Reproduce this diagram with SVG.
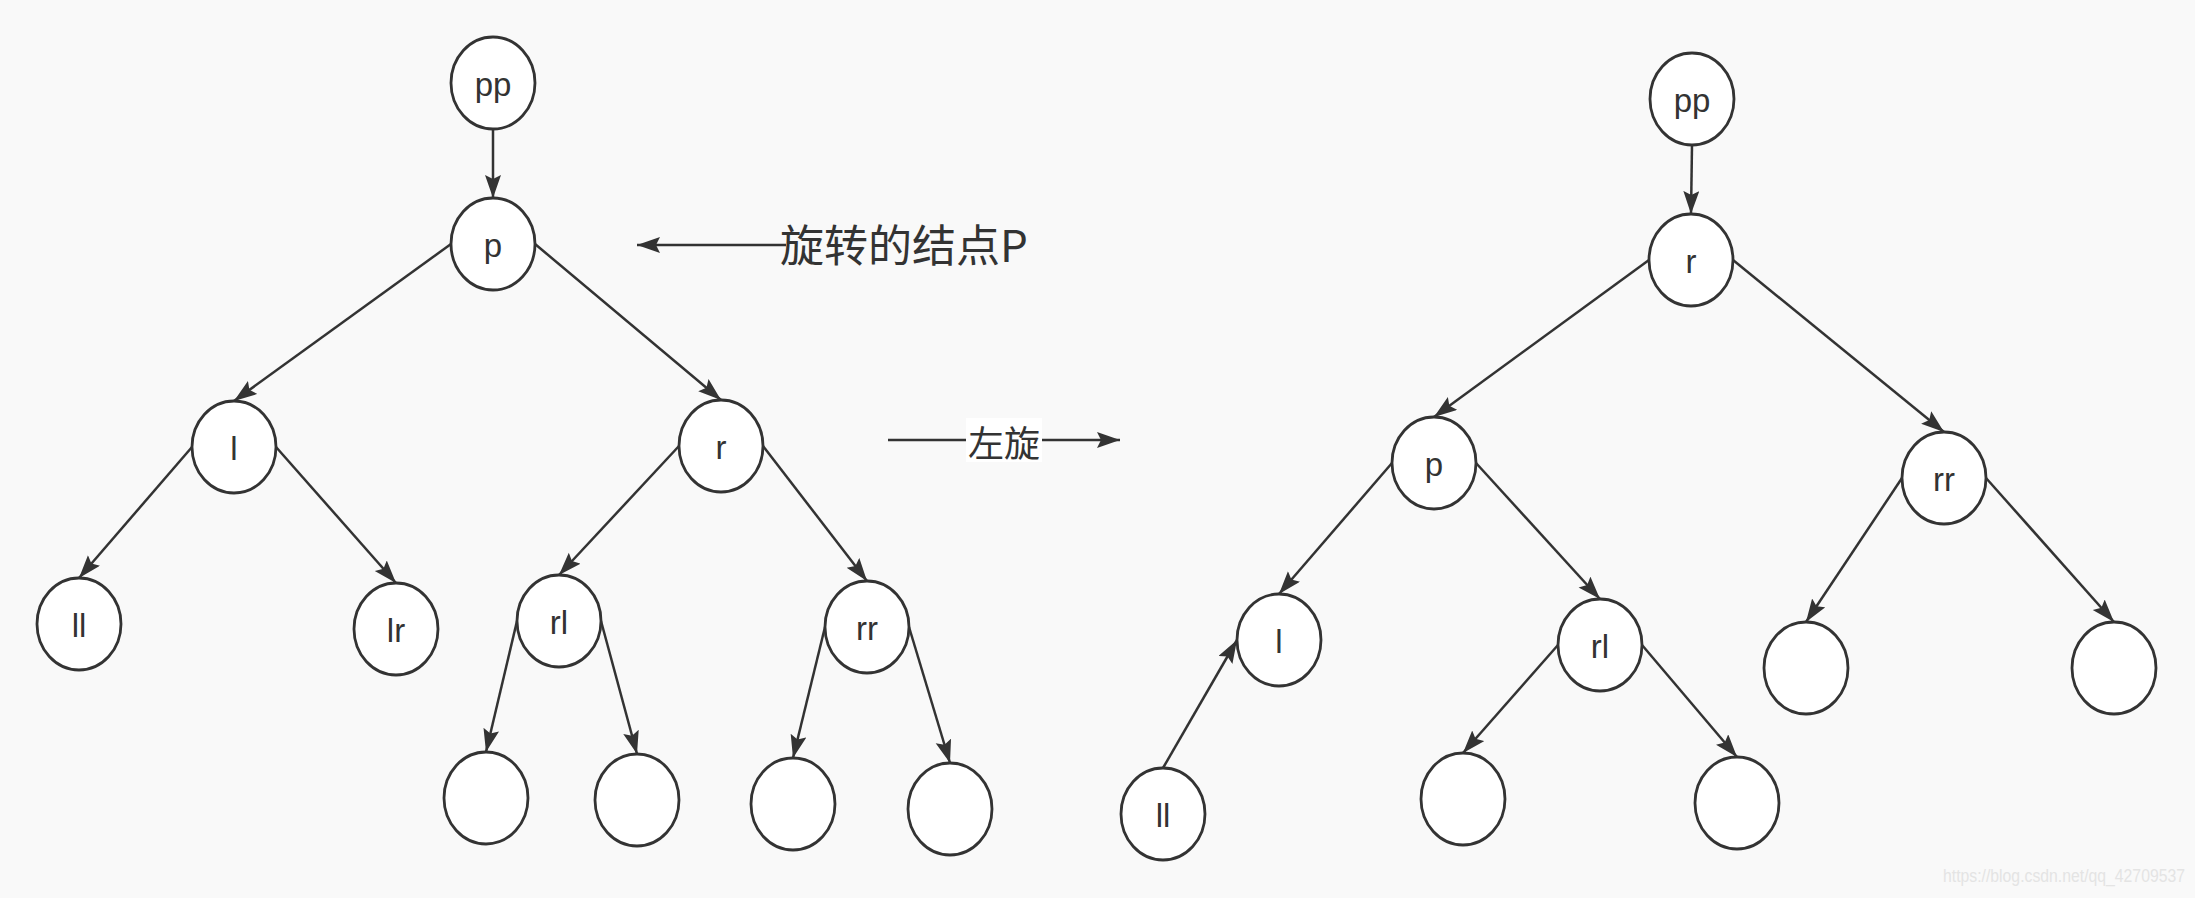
<svg xmlns="http://www.w3.org/2000/svg" width="2195" height="898" viewBox="0 0 2195 898">
<defs>
<style>
.n{fill:#ffffff;stroke:#333333;stroke-width:2.8}
.t{font-family:"Liberation Sans","Noto Sans",sans-serif;font-size:33px;fill:#333333;text-anchor:middle}
.e{stroke:#333333;stroke-width:2.5;fill:none;marker-end:url(#ah)}
.cj{font-family:"Noto Sans CJK SC","Noto Sans",sans-serif;fill:#333333}
</style>
<marker id="ah" markerUnits="userSpaceOnUse" markerWidth="26" markerHeight="18" refX="23" refY="8" orient="auto">
<path d="M0,0 L23,8 L0,16 L4,8 z" fill="#333333"/>
</marker>
</defs>
<rect x="0" y="0" width="2195" height="898" fill="#f9f9f9"/>

<g id="connectors">
<line class="e" x1="493" y1="129" x2="493" y2="198"/>
<line class="e" x1="451" y1="244" x2="234" y2="401"/>
<line class="e" x1="535" y1="244" x2="721" y2="400"/>
<line class="e" x1="192" y1="447" x2="79" y2="578"/>
<line class="e" x1="276" y1="447" x2="396" y2="583"/>
<line class="e" x1="679" y1="446" x2="559" y2="575"/>
<line class="e" x1="763" y1="446" x2="867" y2="581"/>
<line class="e" x1="517" y1="621" x2="486" y2="752"/>
<line class="e" x1="601" y1="621" x2="637" y2="754"/>
<line class="e" x1="825" y1="627" x2="793" y2="758"/>
<line class="e" x1="909" y1="627" x2="950" y2="763"/>

<line class="e" x1="1692" y1="145" x2="1691" y2="214"/>
<line class="e" x1="1649" y1="260" x2="1434" y2="417"/>
<line class="e" x1="1733" y1="260" x2="1944" y2="432"/>
<line class="e" x1="1392" y1="463" x2="1279" y2="594"/>
<line class="e" x1="1476" y1="463" x2="1600" y2="599"/>
<line class="e" x1="1163" y1="768" x2="1237" y2="640"/>
<line class="e" x1="1558" y1="645" x2="1463" y2="753"/>
<line class="e" x1="1642" y1="645" x2="1737" y2="757"/>
<line class="e" x1="1902" y1="478" x2="1806" y2="622"/>
<line class="e" x1="1986" y1="478" x2="2114" y2="622"/>

<line class="e" x1="786" y1="245" x2="637" y2="245"/>
<line class="e" x1="888" y1="440" x2="1120" y2="440"/>
</g>

<g id="label-rotate-node">
<text class="cj" x="780" y="262" font-size="44">旋转的结点P</text>
</g>
<g id="label-left-rotate">
<rect x="966" y="418" width="76" height="44" fill="#ffffff"/>
<text class="cj" x="968" y="457" font-size="36">左旋</text>
</g>

<g id="L-pp"><ellipse class="n" cx="493" cy="83" rx="42" ry="46"/><text class="t" x="493" y="96">pp</text></g>
<g id="L-p"><ellipse class="n" cx="493" cy="244" rx="42" ry="46"/><text class="t" x="493" y="257">p</text></g>
<g id="L-l"><ellipse class="n" cx="234" cy="447" rx="42" ry="46"/><text class="t" x="234" y="460">l</text></g>
<g id="L-r"><ellipse class="n" cx="721" cy="446" rx="42" ry="46"/><text class="t" x="721" y="459">r</text></g>
<g id="L-ll"><ellipse class="n" cx="79" cy="624" rx="42" ry="46"/><text class="t" x="79" y="637">ll</text></g>
<g id="L-lr"><ellipse class="n" cx="396" cy="629" rx="42" ry="46"/><text class="t" x="396" y="642">lr</text></g>
<g id="L-rl"><ellipse class="n" cx="559" cy="621" rx="42" ry="46"/><text class="t" x="559" y="634">rl</text></g>
<g id="L-rr"><ellipse class="n" cx="867" cy="627" rx="42" ry="46"/><text class="t" x="867" y="640">rr</text></g>
<g id="L-e1"><ellipse class="n" cx="486" cy="798" rx="42" ry="46"/></g>
<g id="L-e2"><ellipse class="n" cx="637" cy="800" rx="42" ry="46"/></g>
<g id="L-e3"><ellipse class="n" cx="793" cy="804" rx="42" ry="46"/></g>
<g id="L-e4"><ellipse class="n" cx="950" cy="809" rx="42" ry="46"/></g>

<g id="R-pp"><ellipse class="n" cx="1692" cy="99" rx="42" ry="46"/><text class="t" x="1692" y="112">pp</text></g>
<g id="R-r"><ellipse class="n" cx="1691" cy="260" rx="42" ry="46"/><text class="t" x="1691" y="273">r</text></g>
<g id="R-p"><ellipse class="n" cx="1434" cy="463" rx="42" ry="46"/><text class="t" x="1434" y="476">p</text></g>
<g id="R-rr"><ellipse class="n" cx="1944" cy="478" rx="42" ry="46"/><text class="t" x="1944" y="491">rr</text></g>
<g id="R-l"><ellipse class="n" cx="1279" cy="640" rx="42" ry="46"/><text class="t" x="1279" y="653">l</text></g>
<g id="R-rl"><ellipse class="n" cx="1600" cy="645" rx="42" ry="46"/><text class="t" x="1600" y="658">rl</text></g>
<g id="R-ll"><ellipse class="n" cx="1163" cy="814" rx="42" ry="46"/><text class="t" x="1163" y="827">ll</text></g>
<g id="R-e1"><ellipse class="n" cx="1463" cy="799" rx="42" ry="46"/></g>
<g id="R-e2"><ellipse class="n" cx="1737" cy="803" rx="42" ry="46"/></g>
<g id="R-e3"><ellipse class="n" cx="1806" cy="668" rx="42" ry="46"/></g>
<g id="R-e4"><ellipse class="n" cx="2114" cy="668" rx="42" ry="46"/></g>

<g id="watermark">
<text x="1943" y="882" font-family="Liberation Sans, sans-serif" font-size="18" fill="#e4e4e4" textLength="242" lengthAdjust="spacingAndGlyphs">https://blog.csdn.net/qq_42709537</text>
</g>
</svg>
